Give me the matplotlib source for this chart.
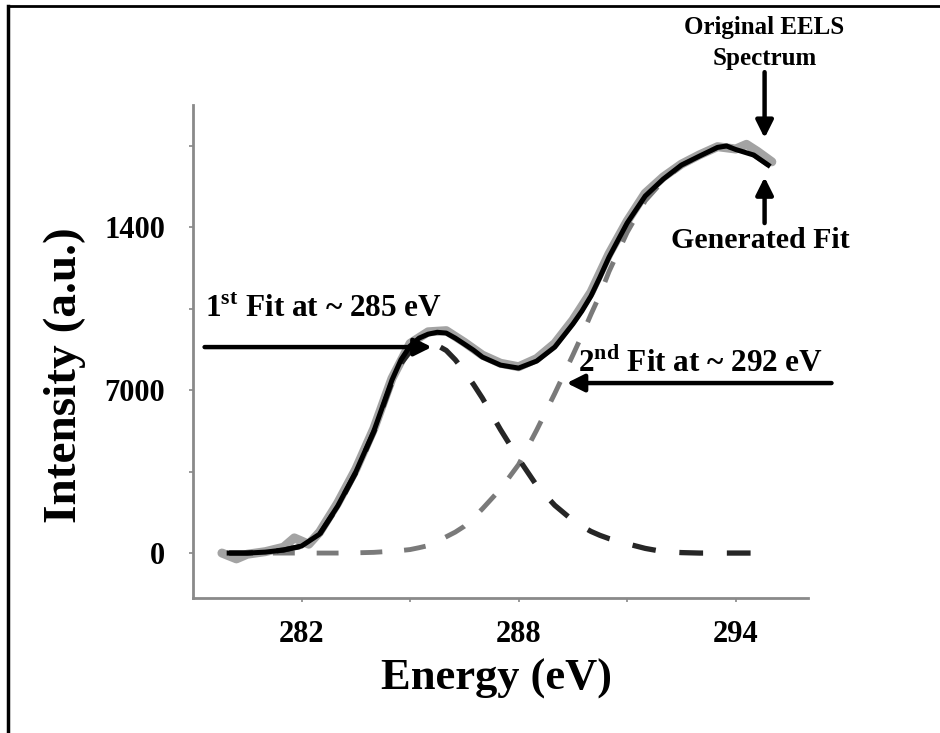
import matplotlib
matplotlib.use("Agg")
import matplotlib.pyplot as plt
from matplotlib.lines import Line2D
from matplotlib.ticker import FixedLocator

plt.rcParams["font.family"] = ["Liberation Serif", "DejaVu Serif"]
plt.rcParams["font.weight"] = "bold"
plt.rcParams["mathtext.fontset"] = "custom"
plt.rcParams["mathtext.rm"] = "Liberation Serif:bold"
plt.rcParams["mathtext.bf"] = "Liberation Serif:bold"

# ── data ─────────────────────────────────────────────────────────────
energy = [280.0, 280.5, 281.0, 281.5, 282.0, 282.5, 283.0, 283.5, 284.0, 284.5,
          284.75, 285.0, 285.25, 285.5, 285.75, 286.0, 286.25, 286.5, 286.75, 287.0,
          287.5, 288.0, 288.5, 289.0, 289.5, 289.75, 290.0, 290.25, 290.5, 291.0,
          291.5, 292.0, 292.5, 293.0, 293.5, 293.75, 294.0, 294.5, 294.9]
fit = [0, 0, 40, 130, 300, 815, 2020, 3480, 5240, 7430,
       8300, 8890, 9230, 9400, 9480, 9446, 9230, 8974, 8716, 8416,
       8072, 7943, 8244, 8845, 9833, 10390, 11035, 11850, 12710, 14170,
       15330, 16060, 16660, 17046, 17420, 17480, 17330, 17090, 16660]
peak1 = [0, 0, 40, 130, 290, 800, 2000, 3450, 5200, 7350,
         8150, 8650, 8900, 9000, 8920, 8700, 8300, 7800, 7250, 6650,
         5300, 4050, 2900, 2050, 1400, 1150, 930, 760, 620, 400,
         200, 60, 20, 0, 0, 0, 0, 0, 0]
peak2 = [0, 0, 0, 0, 0, 0, 0, 10, 30, 80,
         110, 150, 230, 320, 500, 700, 900, 1150, 1500, 1900,
         2750, 3800, 5280, 6850, 8500, 9350, 10250, 11100, 12090, 13770,
         15130, 16000, 16640, 17046, 17420, 17480, 17330, 17090, 16660]

spec_energy = [279.8, 280.2, 280.5, 281.0, 281.5, 281.8, 282.2, 282.5, 283.0, 283.5,
               284.0, 284.5, 285.0, 285.5, 286.0, 286.5, 287.0, 287.5, 288.0, 288.5,
               289.0, 289.5, 290.0, 290.5, 291.0, 291.5, 292.0, 292.5, 293.0, 293.5,
               294.0, 294.3, 294.6, 295.0]
spectrum = [0, -250, -50, 60, 250, 650, 380, 900, 2150, 3600,
            5350, 7500, 9000, 9500, 9550, 9050, 8500, 8150, 8000, 8350,
            9000, 10000, 11200, 12850, 14250, 15450, 16150, 16700, 17100, 17450,
            17350, 17550, 17250, 16800]

x_major = [282, 288, 294]
x_minor = [285, 291]
y_major = [0, 7000, 14000]
y_labels = ["0", "7000", "1400"]
y_minor = [3500, 10500, 17500]

# ── figure ───────────────────────────────────────────────────────────
fig = plt.figure(figsize=(9.4, 7.33), dpi=100)
fig.patch.set_facecolor("white")
ax = fig.add_axes([193 / 940, 1 - 598 / 733, 615 / 940, 493 / 733])

ax.plot(spec_energy, spectrum, color="#a3a3a3", lw=6.5, solid_capstyle="round",
        solid_joinstyle="round", zorder=2)
ax.plot(energy, peak2, color="#7a7a7a", lw=3.5, dashes=(4.5, 4.5), zorder=3)
ax.plot(energy, peak1, color="#262626", lw=3.8, dashes=(4.5, 4.5), zorder=3)
ax.plot(energy, fit, color="black", lw=3.6, solid_joinstyle="round", zorder=4)

ax.set_xlim(279, 296)
ax.set_ylim(-1930, 19240)

ax.xaxis.set_major_locator(FixedLocator(x_major))
ax.xaxis.set_minor_locator(FixedLocator(x_minor))
ax.yaxis.set_major_locator(FixedLocator(y_major))
ax.yaxis.set_minor_locator(FixedLocator(y_minor))
ax.set_yticklabels(y_labels)
ax.tick_params(which="both", color="#888888", length=3, width=1.2, direction="out")
ax.tick_params(axis="x", labelsize=22, pad=13)
ax.tick_params(axis="y", labelsize=22, pad=17)
for lab in ax.get_xticklabels() + ax.get_yticklabels():
    lab.set_fontweight("bold")

ax.spines[["top", "right"]].set_visible(False)
for s in ("left", "bottom"):
    ax.spines[s].set_color("#8a8a8a")
    ax.spines[s].set_linewidth(2)

ax.set_xlabel("Energy (eV)", fontsize=32, fontweight="bold", va="center")
ax.xaxis.set_label_coords(0.493, -0.164)
ax.set_ylabel("Intensity (a.u.)", fontsize=34, fontweight="bold", va="center")
ax.yaxis.set_label_coords(-0.208, 0.452)

arrow = dict(arrowstyle="-|>", lw=3.2, color="black", mutation_scale=26,
             shrinkA=0, shrinkB=0)

# 1st fit label and arrow
ax.text(279.32, 10130, "1$^{\\rm st}$ Fit at ~ 285 eV", fontsize=22.5,
        fontweight="bold", ha="left", va="baseline")
ax.annotate("", xy=(285.6, 8845), xytext=(279.32, 8845),
            arrowprops=arrow, annotation_clip=False)

# 2nd fit label and arrow
ax.text(289.63, 7770, "2$^{\\rm nd}$ Fit at ~ 292 eV", fontsize=22.5,
        fontweight="bold", ha="left", va="baseline")
ax.annotate("", xy=(289.33, 7300), xytext=(296.65, 7300),
            arrowprops=arrow, annotation_clip=False)

# spectrum / fit labels at the top right
ax.text(294.8, 23050, "Original EELS\nSpectrum", fontsize=18, fontweight="bold",
        ha="center", va="top", linespacing=1.45)
ax.annotate("", xy=(294.8, 17820), xytext=(294.8, 20650),
            arrowprops=arrow, annotation_clip=False)
ax.annotate("", xy=(294.8, 16140), xytext=(294.8, 14170),
            arrowprops=arrow, annotation_clip=False)
ax.text(294.69, 14000, "Generated Fit", fontsize=21.5, fontweight="bold",
        ha="center", va="top")

# frame around the panel
fig.add_artist(Line2D([8 / 940, 8 / 940], [0, 1 - 6 / 733], color="black", lw=2.5))
fig.add_artist(Line2D([8 / 940, 1], [1 - 6 / 733, 1 - 6 / 733], color="black", lw=2))

fig.savefig("out.png", dpi=100, facecolor="white")
